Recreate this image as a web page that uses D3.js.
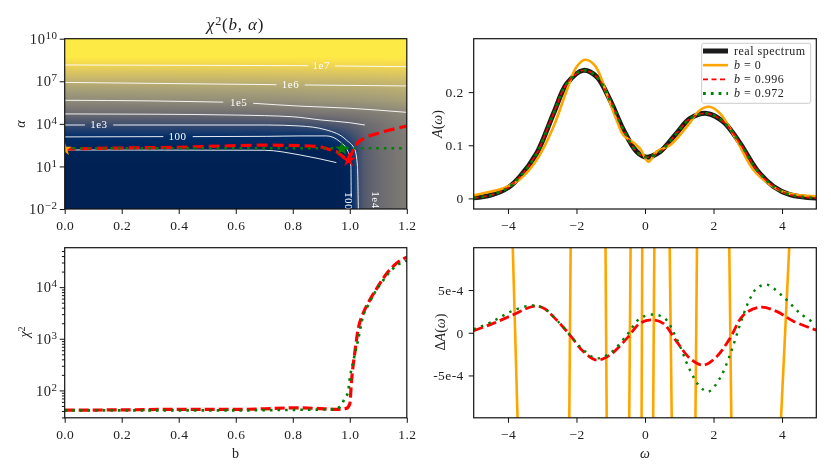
<!DOCTYPE html>
<html>
<head>
<meta charset="utf-8">
<script src="https://cdn.jsdelivr.net/npm/d3@7"></script>
<style>
  body { margin: 0; background: white; }
  #wrap { position: relative; width: 831px; height: 475px; overflow: hidden; }
  canvas { position: absolute; }
  svg { position: absolute; left: 0; top: 0; }
  text { font-family: "Liberation Serif", "DejaVu Serif", serif; fill: #222; }
</style>
</head>
<body>
<div id="wrap"></div>
<script>
// heat map grid, log10(chi2) for each log10(alpha) row and b column
var gridB = [0, 0.6, 0.8, 0.9, 0.96, 1.0, 1.005, 1.03, 1.05, 1.08, 1.12, 1.2];
var gridLogAlpha = [-2, 1, 2.16, 3.08, 3.92, 4.7, 5.66, 6.92, 8.15, 9, 10];
var gridLogChi = [
  [1.62, 1.62, 1.62, 1.62, 1.62, 1.75, 2.0, 3.0, 3.5, 3.8, 4.1, 4.55],
  [1.62, 1.62, 1.62, 1.62, 1.62, 1.78, 2.0, 3.0, 3.5, 3.8, 4.1, 4.55],
  [1.70, 1.70, 1.66, 1.63, 1.65, 2.1, 2.3, 3.05, 3.55, 3.85, 4.15, 4.56],
  [2.0, 2.02, 2.03, 2.05, 2.4, 2.9, 3.0, 3.3, 3.65, 3.9, 4.2, 4.6],
  [3.0, 3.0, 3.0, 3.15, 3.4, 3.6, 3.65, 3.8, 3.97, 4.1, 4.3, 4.7],
  [4.0, 4.05, 4.15, 4.3, 4.35, 4.4, 4.4, 4.45, 4.48, 4.55, 4.65, 4.9],
  [5.0, 5.12, 5.2, 5.3, 5.33, 5.35, 5.35, 5.38, 5.4, 5.43, 5.48, 5.6],
  [6.0, 6.03, 6.08, 6.12, 6.14, 6.15, 6.15, 6.16, 6.17, 6.18, 6.2, 6.25],
  [7.0, 7.0, 7.03, 7.04, 7.05, 7.05, 7.05, 7.06, 7.06, 7.07, 7.08, 7.1],
  [7.7, 7.7, 7.7, 7.7, 7.7, 7.7, 7.7, 7.7, 7.7, 7.7, 7.7, 7.7],
  [8.4, 8.4, 8.4, 8.4, 8.4, 8.4, 8.4, 8.4, 8.4, 8.4, 8.4, 8.4]
];

// contour lines [b, log10 alpha], split where the labels sit
var contourLines = [
  [[0, 8.15], [0.854, 8.1]],
  [[0.948, 8.08], [1.2, 8.03]],
  [[0, 6.92], [0.743, 6.76]],
  [[0.842, 6.74], [1.2, 6.67]],
  [[0, 5.66], [0.3, 5.62], [0.556, 5.53]],
  [[0.661, 5.45], [0.825, 5.25], [1.0, 5.1], [1.2, 4.81]],
  [[0, 4.7], [0.3, 4.68], [0.6, 4.62], [0.8, 4.5], [0.9, 4.27], [1.0, 4.08], [1.053, 3.92]],
  [[0, 3.92], [0.071, 3.92]],
  [[0.17, 3.92], [0.708, 3.92], [0.825, 3.85], [0.918, 3.57], [0.988, 2.86], [1.018, 2.16], [1.027, 0.99], [1.03, -2]],
  [[0, 3.08], [0.346, 3.1]],
  [[0.449, 3.1], [0.708, 3.12], [0.825, 3.15], [0.918, 3.15], [0.965, 2.75], [0.994, 2.04], [1.004, 0.99], [1.005, -1.2]],
  [[0, 2.16], [0.7, 2.14], [0.825, 1.81], [0.953, 1.27]]
];
var contourLabels = ["1e7", "1e6", "1e5", "1e3", "100"];
var contourLabelB = [0.9, 0.792, 0.61, 0.12, 0.396];
var contourLabelLog = [8.08, 6.74, 5.52, 3.92, 3.1];

// optimal alpha path
var pathRedB = [0, 0.2, 0.4, 0.685, 0.825, 0.895, 0.953, 0.988, 0.996, 1.012, 1.03, 1.06, 1.117, 1.2];
var pathRedLog = [2.23, 2.3, 2.35, 2.51, 2.47, 2.4, 2.05, 1.5, 1.45, 2.16, 2.75, 3.1, 3.45, 3.85];
var pathGreenB = [0, 1.2];
var pathGreenLog = [2.28, 2.28];

// chi2 along the two paths
var chiRedB = [0, 0.2, 0.4, 0.6, 0.7, 0.8, 0.88, 0.96, 0.988, 1.0, 1.006, 1.018, 1.03, 1.047, 1.07, 1.094, 1.135, 1.164, 1.2];
var chiRed = [41.5, 42, 43, 43, 44, 46, 45, 43, 45, 55, 150, 560, 1600, 3100, 5600, 9300, 20000, 29000, 38000];
var chiGreenB = [0, 0.2, 0.4, 0.6, 0.8, 0.942, 0.965, 0.983, 0.994, 1.0, 1.012, 1.03, 1.047, 1.064, 1.088, 1.117, 1.152, 1.2];
var chiGreen = [41, 41, 41, 41, 42, 43, 48, 71, 93, 170, 360, 1000, 2800, 4400, 7900, 13500, 23000, 33000];

// spectra
var specOmega = [-5, -4.5, -4, -3.65, -3.16, -2.67, -2.28, -1.8, -1.41, -1.02, -0.63, -0.24, 0.05, 0.44, 0.92, 1.31, 1.8, 2.29, 2.77, 3.26, 3.75, 4.23, 5];
var specReal = [0.001, 0.006, 0.02, 0.041, 0.085, 0.16, 0.216, 0.241, 0.229, 0.185, 0.129, 0.088, 0.0775, 0.088, 0.1225, 0.15, 0.16, 0.144, 0.104, 0.054, 0.0225, 0.007, 0.0005];
var orangeOmega = [-5, -4.62, -4.13, -3.65, -3.16, -2.67, -2.28, -2, -1.75, -1.46, -1.12, -0.83, -0.63, -0.34, -0.15, 0.1, 0.34, 0.73, 1.22, 1.6, 1.88, 2.19, 2.67, 3.16, 3.65, 4.13, 5];
var orangeValues = [0.0056, 0.011, 0.019, 0.036, 0.0725, 0.135, 0.204, 0.2475, 0.261, 0.25, 0.1975, 0.1475, 0.119, 0.105, 0.094, 0.069, 0.088, 0.1, 0.135, 0.166, 0.1725, 0.16, 0.11, 0.054, 0.0256, 0.01, 0.004];

// difference from the real spectrum, in units of 1e-4
var diffOmega = [-5, -4.43, -3.85, -3.26, -2.97, -2.58, -2.19, -1.8, -1.41, -1.02, -0.53, -0.15, 0.19, 0.53, 0.92, 1.31, 1.7, 2.09, 2.48, 2.87, 3.36, 3.84, 4.33, 5];
var diffRed = [0.23, 1.1, 2.1, 3.1, 2.9, 1.5, -0.27, -2.2, -3.2, -2.6, -0.66, 1.1, 1.5, 1.1, -1, -3, -3.8, -2.8, -0.66, 2.06, 3, 2.5, 1.36, 0.3];
var diffGreenOmega = [-5, -4.43, -3.85, -3.31, -2.97, -2.58, -2.19, -1.8, -1.41, -1.02, -0.53, -0.15, 0.24, 0.58, 0.92, 1.31, 1.6, 1.85, 2.19, 2.48, 2.77, 3.02, 3.26, 3.55, 4.04, 4.53, 5];
var diffGreen = [0.4, 1.36, 2.6, 3.2, 2.9, 1.5, -0.27, -2, -3, -2.4, -0.27, 1.67, 2.14, 1.67, -0.66, -4.36, -6.3, -6.9, -5.3, -2.6, 0.9, 3.6, 5.2, 5.64, 4.2, 2.26, 1];
var diffOrangeOmega = [-5, -3.93, -3.65, -2.23, -2.15, -1.17, -1.1, -0.48, -0.4, -0.07, -0.11, 0.22, 0.29, 0.69, 0.81, 1.45, 1.54, 2.43, 2.55, 3.85, 4.33, 5];
var diffOrange = [20, 20, -20, -20, 20, 20, -20, -20, 20, 20, -20, -20, 20, 20, -20, -20, 20, 20, -20, -20, 20, 20];

var legendLabels = ["real spectrum", "b = 0", "b = 0.996", "b = 0.972"];

var orange = "#ffa500", red = "#ff0000", green = "#008000", dark = "#1a1a1a";

var wrap = d3.select("#wrap");
var svg = wrap.append("svg").attr("width", 831).attr("height", 475);

var left1 = 64.7, right1 = 406.8, left2 = 473.7, right2 = 816.3;
var top1 = 38.7, bot1 = 209, top2 = 247.7, bot2 = 417.8;

var x1 = d3.scaleLinear().domain([0, 1.2]).range([left1, right1]);
var x3 = d3.scaleLinear().domain([0, 1.2]).range([left1, right1]);
var x2 = d3.scaleLinear().domain([-5, 5]).range([left2, right2]);
var yAlpha = d3.scaleLinear().domain([-2, 10]).range([bot1, top1]);
var ySpec = d3.scaleLinear().domain([-0.02, 0.3006]).range([bot1, top1]);
var yChi = d3.scaleLog().domain([29.5, 58000]).range([bot2, top2]);
var yDiff = d3.scaleLinear().domain([-9.96, 9.96]).range([bot2, top2]);

function clip(id, x0, x1_, y0, y1) {
  svg.append("clipPath").attr("id", id).append("rect")
    .attr("x", x0).attr("y", y0).attr("width", x1_ - x0).attr("height", y1 - y0);
}
clip("c1", left1, right1, top1, bot1);
clip("c2", left2, right2, top1, bot1);
clip("c3", left1, right1, top2, bot2);
clip("c4", left2, right2, top2, bot2);

// heat map, filled per pixel with bilinear shading between grid nodes
var color = d3.scaleSequential(d3.interpolateCividis).domain([1.6, 7.5]);
var cw = Math.round(right1 - left1), ch = Math.round(bot1 - top1);
var canvas = wrap.insert("canvas", "svg")
  .attr("width", cw).attr("height", ch)
  .style("left", left1 + "px").style("top", top1 + "px")
  .style("width", (right1 - left1) + "px").style("height", (bot1 - top1) + "px");
var ctx = canvas.node().getContext("2d");
var img = ctx.createImageData(cw, ch);
function cellAt(arr, v) {
  var i = Math.min(Math.max(d3.bisectRight(arr, v) - 1, 0), arr.length - 2);
  return [i, (v - arr[i]) / (arr[i + 1] - arr[i])];
}
for (var j = 0; j < ch; j++) {
  var ly = cellAt(gridLogAlpha, yAlpha.invert(top1 + j + 0.5));
  for (var i = 0; i < cw; i++) {
    var lx = cellAt(gridB, x1.invert(left1 + i + 0.5));
    var r0 = gridLogChi[ly[0]], r1 = gridLogChi[ly[0] + 1];
    var a = r0[lx[0]] * (1 - lx[1]) + r0[lx[0] + 1] * lx[1];
    var b = r1[lx[0]] * (1 - lx[1]) + r1[lx[0] + 1] * lx[1];
    var c = d3.rgb(color(Math.min(a * (1 - ly[1]) + b * ly[1], 7.5)));
    var k = (j * cw + i) * 4;
    img.data[k] = c.r; img.data[k + 1] = c.g; img.data[k + 2] = c.b; img.data[k + 3] = 255;
  }
}
ctx.putImageData(img, 0, 0);

// contours
var contourLine = d3.line().x(function(d) { return x1(d[0]); }).y(function(d) { return yAlpha(d[1]); }).curve(d3.curveMonotoneX);
var g1 = svg.append("g").attr("clip-path", "url(#c1)");
g1.selectAll("path.contour").data(contourLines).enter().append("path")
  .attr("class", "contour")
  .attr("d", contourLine)
  .attr("fill", "none").attr("stroke", "white").attr("stroke-opacity", 0.9).attr("stroke-width", 1);
g1.selectAll("text.clabel").data(contourLabels).enter().append("text")
  .attr("class", "clabel")
  .attr("x", function(d, i) { return x1(contourLabelB[i]); })
  .attr("y", function(d, i) { return yAlpha(contourLabelLog[i]) + 3.3; })
  .attr("text-anchor", "middle").attr("font-size", "11px").attr("letter-spacing", "0.5px")
  .style("fill", "white").text(function(d) { return d; });
g1.append("text").attr("transform", "translate(" + x1(0.995) + "," + (bot1 - 8) + ") rotate(90)")
  .attr("text-anchor", "middle").attr("dy", 3).attr("font-size", "11px").attr("letter-spacing", "0.5px").style("fill", "white").text("100");
g1.append("text").attr("transform", "translate(" + x1(1.09) + "," + (bot1 - 9) + ") rotate(90)")
  .attr("text-anchor", "middle").attr("dy", 3).attr("font-size", "11px").attr("letter-spacing", "0.5px").style("fill", "white").text("1e4");

function drawLine(g, xs, ys, xScale, yScale, stroke, width, dash, curve) {
  var line = d3.line()
    .x(function(d, i) { return xScale(xs[i]); })
    .y(function(d, i) { return yScale(ys[i]); })
    .curve(curve || d3.curveLinear);
  g.append("path").datum(ys).attr("d", line).attr("fill", "none")
    .attr("stroke", stroke).attr("stroke-width", width)
    .attr("stroke-dasharray", dash);
}

drawLine(g1, pathRedB, pathRedLog, x1, yAlpha, red, 3.2, "11,5", d3.curveLinear);
drawLine(g1, pathGreenB, pathGreenLog, x1, yAlpha, green, 2.6, "2.6,5");

// markers
var star = d3.symbol().type(d3.symbolStar);
var markerB = [0, 0.972, 0.996];
var markerLog = [2.23, 2.25, 1.45];
var markerColors = [orange, green, red];
g1.selectAll("path.mark").data(markerB).enter().append("path")
  .attr("class", "mark")
  .attr("d", star.size(60))
  .attr("transform", function(d, i) { return "translate(" + x1(d) + "," + yAlpha(markerLog[i]) + ")"; })
  .attr("fill", function(d, i) { return markerColors[i]; });

// top right
var g2 = svg.append("g").attr("clip-path", "url(#c2)");
var curve = d3.curveCatmullRom;
drawLine(g2, specOmega, specReal, x2, ySpec, dark, 5, null, curve);
drawLine(g2, orangeOmega, orangeValues, x2, ySpec, orange, 2.6, null, curve);
drawLine(g2, specOmega, specReal, x2, ySpec, red, 1.8, "5,3", curve);
drawLine(g2, specOmega, specReal, x2, ySpec, green, 2.8, "2.8,5", curve);

// bottom left
var g3 = svg.append("g").attr("clip-path", "url(#c3)");
drawLine(g3, chiRedB, chiRed, x3, yChi, red, 3.2, "10,4", d3.curveMonotoneX);
drawLine(g3, chiGreenB, chiGreen, x3, yChi, green, 2.6, "2.6,5", d3.curveMonotoneX);

// bottom right
var g4 = svg.append("g").attr("clip-path", "url(#c4)");
drawLine(g4, diffOrangeOmega, diffOrange, x2, yDiff, orange, 2.6);
drawLine(g4, diffOmega, diffRed, x2, yDiff, red, 2.8, "10,4", curve);
drawLine(g4, diffGreenOmega, diffGreen, x2, yDiff, green, 2.4, "2.4,5.5", curve);

// frames
var frames = [[left1, right1, top1, bot1], [left2, right2, top1, bot1], [left1, right1, top2, bot2], [left2, right2, top2, bot2]];
svg.selectAll("rect.frame").data(frames).enter().append("rect")
  .attr("class", "frame")
  .attr("x", function(d) { return d[0]; }).attr("y", function(d) { return d[2]; })
  .attr("width", function(d) { return d[1] - d[0]; }).attr("height", function(d) { return d[3] - d[2]; })
  .attr("fill", "none").attr("stroke", "#111").attr("stroke-width", 1.2);

// axes
function addAxis(axis, tx, ty) {
  var g = svg.append("g").attr("transform", "translate(" + tx + "," + ty + ")").call(axis);
  g.select(".domain").remove();
  g.selectAll("line").attr("stroke", "#111").attr("stroke-width", 1);
  g.selectAll("text").attr("font-size", "13.5px").attr("font-family", null).attr("letter-spacing", "0.4px");
  return g;
}
function minus(d) { return d < 0 ? "\u2212" + Math.abs(d) : "" + d; }
var bTicks = [0, 0.2, 0.4, 0.6, 0.8, 1.0, 1.2];
var omegaTicks = [-4, -2, 0, 2, 4];
var alphaExp = [-2, 1, 4, 7, 10];
var specTicks = [0, 0.1, 0.2];
var specLabels = ["0", "0.1", "0.2"];
var chiTicks = [100, 1000, 10000];
var chiMinor = [30, 40, 50, 60, 70, 80, 90, 200, 300, 400, 500, 600, 700, 800, 900, 2000, 3000, 4000, 5000, 6000, 7000, 8000, 9000, 20000, 30000, 40000, 50000];
var diffTicks = [-5, 0, 5];
var diffLabels = ["-5e-4", "0", "5e-4"];

function powerLabels(g, exps) {
  g.selectAll(".tick text").attr("font-size", "14.5px").attr("letter-spacing", "0.6px").each(function(d, i) {
    var t = d3.select(this).text("10");
    t.append("tspan").attr("dy", "-0.45em").attr("font-size", "11px").text(minus(exps[i]));
  });
}

function bottomAxis(scale, ticks, fmt, y) {
  addAxis(d3.axisBottom(scale).tickValues(ticks).tickSize(5).tickPadding(6.5).tickFormat(fmt), 0, y);
}
bottomAxis(x1, bTicks, d3.format(".1f"), bot1);
bottomAxis(x3, bTicks, d3.format(".1f"), bot2);
bottomAxis(x2, omegaTicks, minus, bot1);
bottomAxis(x2, omegaTicks, minus, bot2);
powerLabels(addAxis(d3.axisLeft(yAlpha).tickValues(alphaExp).tickSize(5).tickPadding(2), left1, 0), alphaExp);
powerLabels(addAxis(d3.axisLeft(yChi).tickValues(chiTicks).tickSize(5).tickPadding(2), left1, 0), [2, 3, 4]);
addAxis(d3.axisLeft(yChi).tickValues(chiMinor).tickSize(2.8).tickFormat(""), left1, 0);
addAxis(d3.axisLeft(ySpec).tickValues(specTicks).tickSize(5).tickPadding(5).tickFormat(function(d, i) { return specLabels[i]; }), left2, 0);
addAxis(d3.axisLeft(yDiff).tickValues(diffTicks).tickSize(5).tickPadding(5).tickFormat(function(d, i) { return diffLabels[i]; }), left2, 0);

// titles and axis labels
function math(sel, parts) {
  parts.forEach(function(p) {
    var t = sel.append("tspan").text(p[0]);
    if (p[1] == "i") t.attr("font-style", "italic");
    if (p[1] == "s") t.attr("dy", "-0.4em").attr("font-size", "0.72em");
    if (p[1] == "d") t.attr("dy", "0.29em");
  });
}
var title = svg.append("text").attr("x", 235.5).attr("y", 30).attr("text-anchor", "middle").attr("font-size", "17px").attr("letter-spacing", "0.8px");
math(title, [["\u03c7", "i"], ["2", "s"], ["(", "d"], ["b", "i"], [", "], ["\u03b1", "i"], [")"]]);

function yLabel(x, y, parts) {
  var t = svg.append("text").attr("transform", "translate(" + x + "," + y + ") rotate(-90)")
    .attr("text-anchor", "middle").attr("font-size", "14px");
  math(t, parts);
}
yLabel(25, 124, [["\u03b1", "i"]]);
yLabel(29, 332, [["\u03c7", "i"], ["2", "s"]]);
yLabel(442, 124, [["A", "i"], ["("], ["\u03c9", "i"], [")"]]);
yLabel(445, 332, [["\u0394"], ["A", "i"], ["("], ["\u03c9", "i"], [")"]]);

svg.append("text").attr("x", 235.5).attr("y", 458).attr("text-anchor", "middle").attr("font-size", "14px").text("b");
svg.append("text").attr("x", 645).attr("y", 458).attr("text-anchor", "middle").attr("font-size", "14px").attr("font-style", "italic").text("\u03c9");

// legend
var legend = svg.append("g");
legend.append("rect").attr("x", 701.7).attr("y", 43.3).attr("width", 109).attr("height", 60).attr("rx", 2)
  .attr("fill", "white").attr("fill-opacity", 0.85).attr("stroke", "#ccc").attr("stroke-width", 1);
var legendY = d3.scalePoint().domain(legendLabels).range([51, 93.5]);
var legendStroke = [dark, orange, red, green];
var legendWidth = [5, 2.6, 1.8, 2.8];
var legendDash = [null, null, "5,3.5", "2.8,5"];
legend.selectAll("line").data(legendLabels).enter().append("line")
  .attr("x1", 703).attr("x2", 728)
  .attr("y1", function(d) { return legendY(d); }).attr("y2", function(d) { return legendY(d); })
  .attr("stroke", function(d, i) { return legendStroke[i]; })
  .attr("stroke-width", function(d, i) { return legendWidth[i]; })
  .attr("stroke-dasharray", function(d, i) { return legendDash[i]; });
legend.selectAll("text").data(legendLabels).enter().append("text")
  .attr("x", 734).attr("y", function(d) { return legendY(d) + 3.5; })
  .attr("font-size", "12px").attr("letter-spacing", "0.5px")
  .each(function(d, i) {
    var t = d3.select(this);
    if (i == 0) { t.text(d); return; }
    t.append("tspan").attr("font-style", "italic").text("b");
    t.append("tspan").text(d.slice(1));
  });
</script>
</body>
</html>
